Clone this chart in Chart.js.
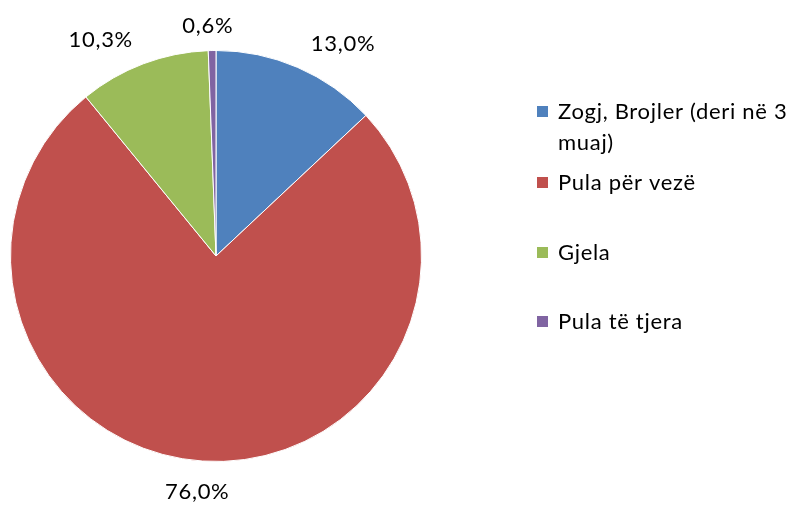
<!DOCTYPE html>
<html>
<head>
<meta charset="utf-8">
<script src="https://cdn.jsdelivr.net/npm/chart.js@4"></script>
<style>
html,body{margin:0;padding:0;background:#fff;}
#wrap{width:791px;height:506px;position:relative;}
</style>
</head>
<body>
<div id="wrap"><canvas id="c" width="791" height="506"></canvas></div>
<script>
const categories = ["Zogj, Brojler (deri në 3 muaj)", "Pula për vezë", "Gjela", "Pula të tjera"];
const values = [13.0, 76.0, 10.3, 0.6];
const valueLabels = ["13,0%", "76,0%", "10,3%", "0,6%"];
const colors = ["#4F81BD", "#C0504D", "#9BBB59", "#8064A2"];

const FONT = "22px Lato, Carlito, 'Liberation Sans', sans-serif";
const SPACING = "0.7px";

const labelPlugin = {
  id: 'labels',
  afterDatasetsDraw(chart) {
    const ctx = chart.ctx;
    const meta = chart.getDatasetMeta(0);
    ctx.save();
    ctx.font = FONT;
    ctx.letterSpacing = SPACING;
    ctx.fillStyle = '#000';
    meta.data.forEach((arc, i) => {
      const mid = (arc.startAngle + arc.endAngle) / 2;
      const r = arc.outerRadius + 18;
      const c = Math.cos(mid), s = Math.sin(mid);
      let ax = arc.x + c * r;
      let ay = arc.y + s * r;
      if (Math.abs(c) < 0.25) { ctx.textAlign = 'center'; ax -= 4; }
      else { ctx.textAlign = c > 0 ? 'left' : 'right'; ax += c > 0 ? 6 : -4; }
      ctx.textBaseline = 'alphabetic';
      const m = ctx.measureText(valueLabels[i]);
      const capH = m.actualBoundingBoxAscent;
      const y = s < 0 ? ay : ay + 5 + capH;
      ctx.fillText(valueLabels[i], ax, y);
    });
    ctx.restore();
  }
};

const legendPlugin = {
  id: 'customLegend',
  afterDraw(chart) {
    const ctx = chart.ctx;
    ctx.save();
    ctx.font = FONT;
    ctx.letterSpacing = SPACING;
    ctx.textBaseline = 'middle';
    ctx.textAlign = 'left';
    const lines = [["Zogj, Brojler (deri në 3", "muaj)"], ["Pula për vezë"], ["Gjela"], ["Pula të tjera"]];
    const ys = [112, 183, 253, 322];
    const lineH = 31;
    lines.forEach((ls, i) => {
      ctx.fillStyle = colors[i];
      ctx.fillRect(537, ys[i] - 6, 11, 11);
      ctx.fillStyle = '#000';
      ls.forEach((t, j) => ctx.fillText(t, 558, ys[i] + j * lineH));
    });
    ctx.restore();
  }
};

new Chart(document.getElementById('c'), {
  type: 'pie',
  data: {
    labels: categories,
    datasets: [{
      data: values,
      backgroundColor: colors,
      borderColor: '#ffffff',
      borderWidth: 1
    }]
  },
  options: {
    responsive: false,
    animation: false,
    layout: { padding: { left: 10, right: 369, top: 50, bottom: 44 } },
    plugins: { legend: { display: false }, tooltip: { enabled: false } }
  },
  plugins: [labelPlugin, legendPlugin]
});
</script>
</body>
</html>
